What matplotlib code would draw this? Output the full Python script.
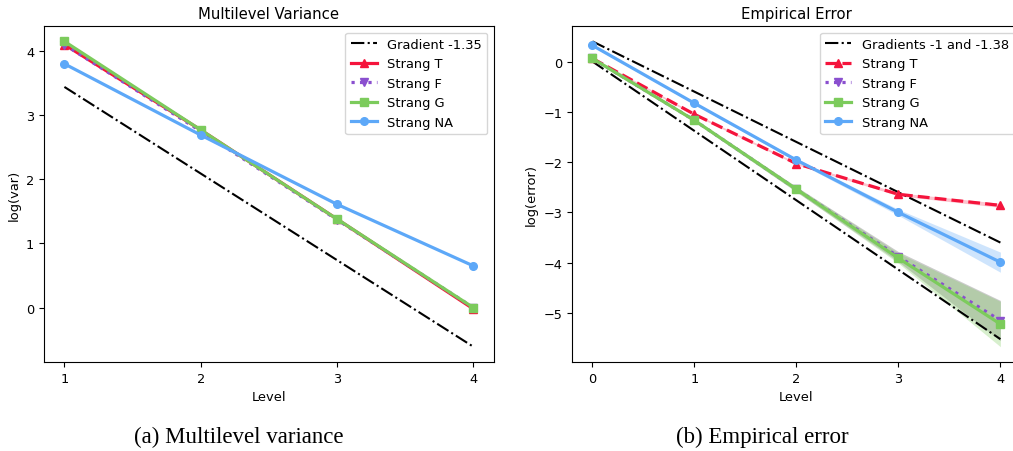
import numpy as np
import matplotlib
matplotlib.use("Agg")
import matplotlib.pyplot as plt

# data
levels_var = [1, 2, 3, 4]
var_T = [4.10, 2.77, 1.38, -0.02]
var_F = [4.10, 2.75, 1.37, 0.00]
var_G = [4.15, 2.77, 1.38, 0.00]
var_NA = [3.80, 2.69, 1.61, 0.65]
grad_var = [3.44, -0.61]

levels_err = [0, 1, 2, 3, 4]
err_T = [0.06, -1.05, -2.03, -2.64, -2.86]
err_F = [0.06, -1.17, -2.54, -3.88, -5.15]
err_G = [0.06, -1.17, -2.54, -3.91, -5.22]
err_NA = [0.32, -0.83, -1.96, -3.00, -3.99]
band_F = [0.03, 0.03, 0.05, 0.10, 0.40]
band_G = [0.03, 0.03, 0.05, 0.10, 0.45]
band_NA = [0.02, 0.02, 0.03, 0.06, 0.20]
band_T = [0.02, 0.02, 0.02, 0.03, 0.04]
grad_hi = [0.40, -3.60]
grad_lo = [0.00, -5.52]

c_T = '#f5143c'
c_F = '#8a4fcf'
c_G = '#7ccb5c'
c_NA = '#5da8f8'

fig = plt.figure(figsize=(10.13, 4.52), dpi=100)
ax1 = fig.add_axes([0.0434, 0.197, 0.444, 0.743])
ax2 = fig.add_axes([0.5647, 0.197, 0.443, 0.743])

# Multilevel variance
ax1.plot([1, 4], grad_var, 'k-.', lw=1.5, label='Gradient -1.35')
ax1.plot(levels_var, var_T, '-', marker='^', color=c_T, lw=2.3, ms=5.5, label='Strang T')
ax1.plot(levels_var, var_F, ':', marker='v', color=c_F, lw=2.3, ms=5.5, label='Strang F')
ax1.plot(levels_var, var_G, '-', marker='s', color=c_G, lw=2.3, ms=5.5, label='Strang G')
ax1.plot(levels_var, var_NA, '-', marker='o', color=c_NA, lw=2.3, ms=5.5, label='Strang NA')
ax1.set_title('Multilevel Variance', fontsize=10.7)
ax1.set_xlabel('Level', fontsize=9.4)
ax1.set_ylabel('log(var)', fontsize=9.4)
ax1.set_xticks(levels_var)
ax1.set_yticks([0, 1, 2, 3, 4])
ax1.tick_params(labelsize=9.3)
ax1.legend(loc='upper right', fontsize=9.4)

# Empirical error
lv = np.array(levels_err)
ax2.plot([0, 4], grad_hi, 'k-.', lw=1.5, label='Gradients -1 and -1.38')
ax2.plot([0, 4], grad_lo, 'k-.', lw=1.5)
ax2.plot(lv, err_T, '--', marker='^', color=c_T, lw=2.3, ms=5.5, label='Strang T')
ax2.fill_between(lv, np.array(err_T) - band_T, np.array(err_T) + band_T, color=c_T, alpha=0.25, lw=0)
ax2.plot(lv, err_F, ':', marker='v', color=c_F, lw=2.3, ms=5.5, label='Strang F')
ax2.fill_between(lv, np.array(err_F) - band_F, np.array(err_F) + band_F, color='#555555', alpha=0.3, lw=0)
ax2.plot(lv, err_G, '-', marker='s', color=c_G, lw=2.3, ms=5.5, label='Strang G')
ax2.fill_between(lv, np.array(err_G) - band_G, np.array(err_G) + band_G, color=c_G, alpha=0.3, lw=0)
ax2.plot(lv, err_NA, '-', marker='o', color=c_NA, lw=2.3, ms=5.5, label='Strang NA')
ax2.fill_between(lv, np.array(err_NA) - band_NA, np.array(err_NA) + band_NA, color=c_NA, alpha=0.3, lw=0)
ax2.set_title('Empirical Error', fontsize=10.7)
ax2.set_xlabel('Level', fontsize=9.4)
ax2.set_ylabel('log(error)', fontsize=9.4)
ax2.set_xticks(levels_err)
ax2.tick_params(labelsize=9.3)
ax2.legend(loc='upper right', fontsize=9.4)

fig.text(0.236, 0.02, '(a) Multilevel variance', ha='center', fontsize=16.5,
         family='Liberation Serif')
fig.text(0.753, 0.02, '(b) Empirical error', ha='center', fontsize=16.5,
         family='Liberation Serif')

fig.savefig('out.png', dpi=100)
